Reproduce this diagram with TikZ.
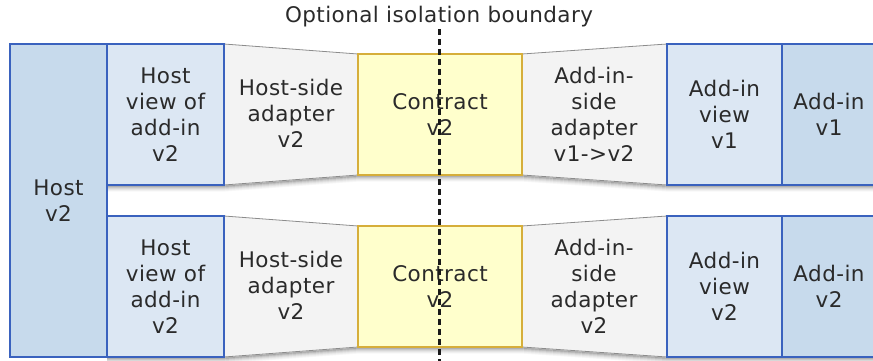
\documentclass[tikz,border=0pt]{standalone}
\usepackage{fontspec}
\newfontfamily\lblfont{DejaVu Sans}[LetterSpace=2]
\definecolor{hostfill}{HTML}{C7DAEC}
\definecolor{viewfill}{HTML}{DCE7F3}
\definecolor{bordblue}{HTML}{3A62BE}
\definecolor{adaptfill}{HTML}{F3F3F3}
\definecolor{adaptline}{HTML}{8C8C8C}
\definecolor{contfill}{HTML}{FFFFCC}
\definecolor{contline}{HTML}{D6AE3A}
\definecolor{txt}{HTML}{2A2A2A}
\begin{document}
\begin{tikzpicture}[x=1pt,y=-1pt,
  lbl/.style={text=txt,align=center,font=\lblfont\fontsize{21.5}{26}\selectfont},
  bbox/.style={lbl,draw=bordblue,line width=1.5pt,inner sep=0pt,outer sep=0pt,anchor=north west},
  hostbox/.style={bbox,fill=hostfill},
  viewbox/.style={bbox,fill=viewfill},
  contbox/.style={lbl,draw=contline,fill=contfill,line width=1.3pt,inner sep=0pt,outer sep=0pt,anchor=north west,minimum width=164pt,minimum height=121pt},
  adapt/.style={fill=adaptfill,draw=adaptline,line width=0.8pt,line join=round},
  boundary/.style={draw=black!90,line width=3pt,dash pattern=on 6pt off 4pt},
  shadowline/.style={line width=1.2pt,draw=black}
]
\useasboundingbox (0,0) rectangle (873,361);

% shadows
\foreach \B in {185,357}{
  \foreach \d/\o in {1/0.30,2/0.22,3/0.15,4/0.10,5/0.06,6/0.03}{
    \draw[shadowline,draw opacity=\o] (107,\B+\d) -- (224,\B+\d) -- (358,\B-10+\d) -- (522,\B-10+\d) -- (667,\B+\d) -- (873,\B+\d);
  }
}

% adapters (trapezoids), top row
\coordinate (a1tl) at (224,44); \coordinate (a1tr) at (358,54);
\coordinate (a1br) at (358,175); \coordinate (a1bl) at (224,185);
\coordinate (b1tl) at (522,54); \coordinate (b1tr) at (667,44);
\coordinate (b1br) at (667,185); \coordinate (b1bl) at (522,175);
\path[adapt] (a1tl) -- (a1tr) -- (a1br) -- (a1bl) -- cycle;
\path[adapt] (b1tl) -- (b1tr) -- (b1br) -- (b1bl) -- cycle;
% bottom row
\coordinate (a2tl) at (224,216); \coordinate (a2tr) at (358,226);
\coordinate (a2br) at (358,347); \coordinate (a2bl) at (224,357);
\coordinate (b2tl) at (522,226); \coordinate (b2tr) at (667,216);
\coordinate (b2br) at (667,357); \coordinate (b2bl) at (522,347);
\path[adapt] (a2tl) -- (a2tr) -- (a2br) -- (a2bl) -- cycle;
\path[adapt] (b2tl) -- (b2tr) -- (b2br) -- (b2bl) -- cycle;

% host
\node[hostbox,minimum width=97pt,minimum height=313pt] (host) at (10,44) {Host\\v2};

% top row boxes
\node[viewbox,minimum width=117pt,minimum height=141pt] (hv1) at (107,44) {Host\\view of\\add-in\\v2};
\node[lbl] (ha1) at (291,113) {Host-side\\adapter\\v2};
\node[contbox] (c1) at (358,54) {Contract\\v2};
\node[lbl] (aa1) at (594,114) {Add-in-\\side\\adapter\\v1->v2};
\node[viewbox,minimum width=115pt,minimum height=141pt] (av1) at (667,44) {Add-in\\view\\v1};
\node[hostbox,minimum width=96pt,minimum height=141pt] (ad1) at (782,44) {Add-in\hspace*{2pt}\\v1\hspace*{2pt}};

% bottom row boxes
\node[viewbox,minimum width=117pt,minimum height=141pt] (hv2) at (107,216) {Host\\view of\\add-in\\v2};
\node[lbl] (ha2) at (291,285) {Host-side\\adapter\\v2};
\node[contbox] (c2) at (358,226) {Contract\\v2};
\node[lbl] (aa2) at (594,286) {Add-in-\\side\\adapter\\v2};
\node[viewbox,minimum width=115pt,minimum height=141pt] (av2) at (667,216) {Add-in\\view\\v2};
\node[hostbox,minimum width=96pt,minimum height=141pt] (ad2) at (782,216) {Add-in\hspace*{2pt}\\v2\hspace*{2pt}};

% isolation boundary
\node[lbl] (bl) at (439,17) {Optional isolation boundary};
\coordinate (btop) at (439,29);
\coordinate (bbot) at (439,361);
\draw[boundary] (btop) -- (bbot);
\end{tikzpicture}
\end{document}
